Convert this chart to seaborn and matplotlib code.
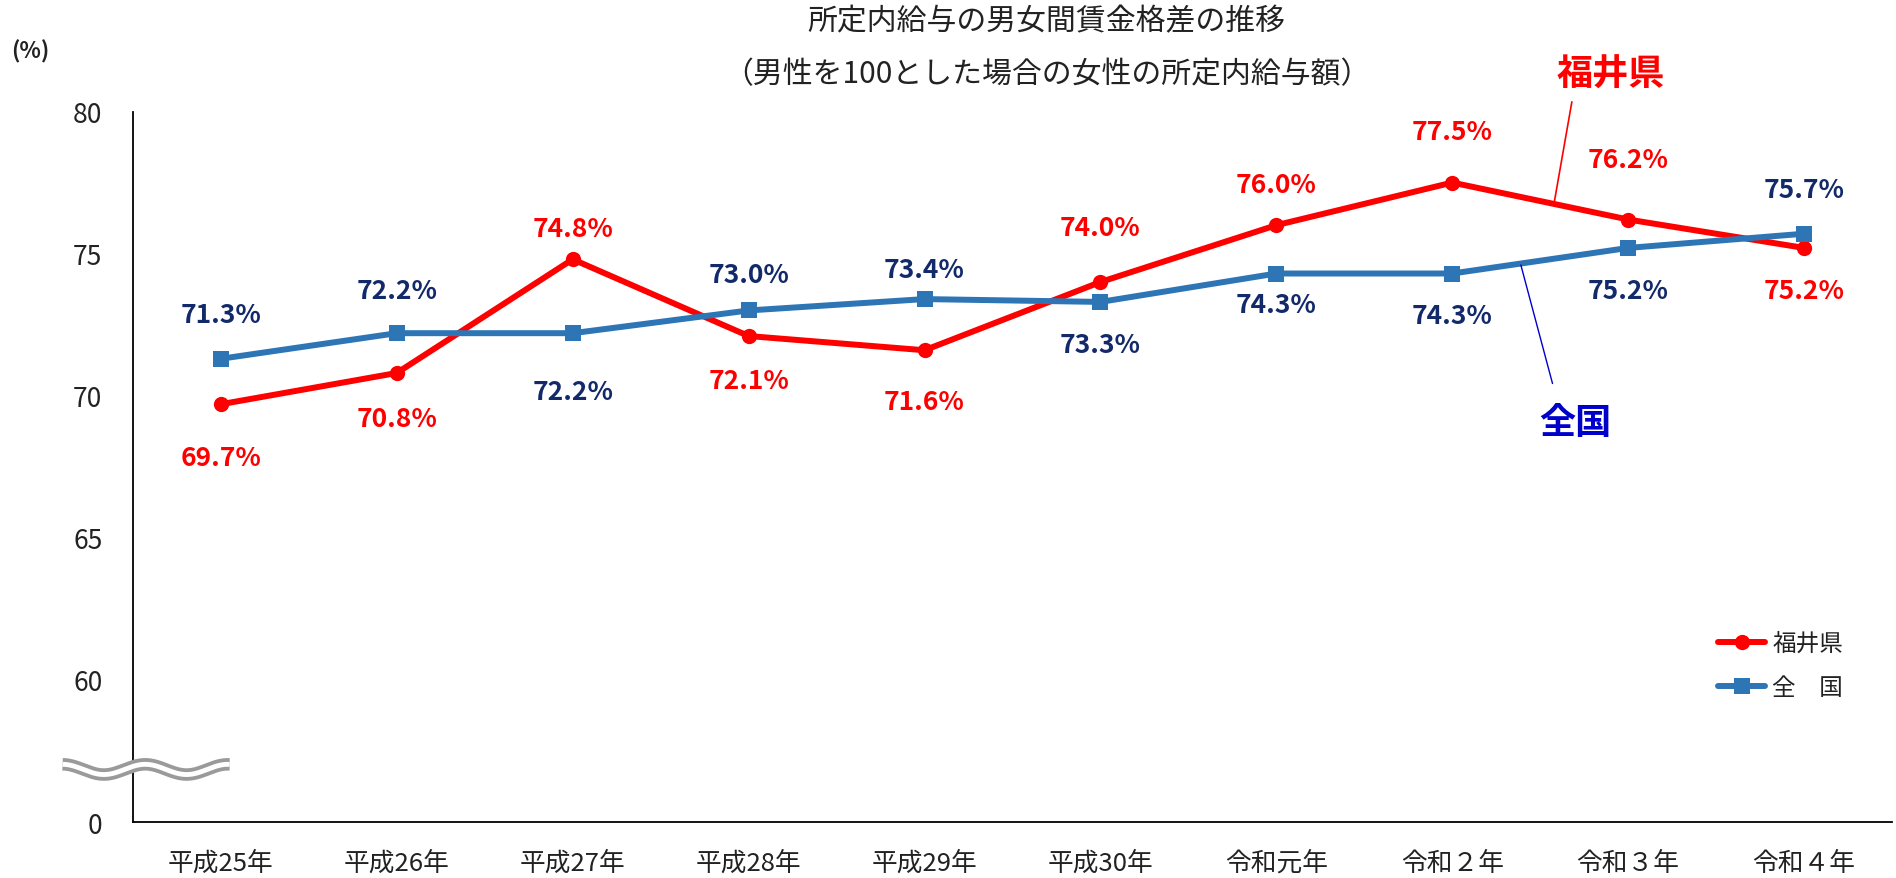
import numpy as np
import pandas as pd
import seaborn as sns
import matplotlib
matplotlib.use("Agg")
import matplotlib.pyplot as plt

# データ
years = ["平成25年", "平成26年", "平成27年", "平成28年", "平成29年",
         "平成30年", "令和元年", "令和２年", "令和３年", "令和４年"]
fukui = [69.7, 70.8, 74.8, 72.1, 71.6, 74.0, 76.0, 77.5, 76.2, 75.2]
zenkoku = [71.3, 72.2, 72.2, 73.0, 73.4, 73.3, 74.3, 74.3, 75.2, 75.7]
y_ticks = [55, 60, 65, 70, 75, 80]
y_tick_labels = ["0", "60", "65", "70", "75", "80"]

# ラベルの上下位置（ポイント）
fukui_off = [-38, -33, 22, -32, -37, 39, 29, 37, 43, -31]
zenkoku_off = [32, 31, -42, 26, 21, -31, -22, -30, -31, 32]

sns.set_theme(style="white")
plt.rcParams["font.family"] = ["Noto Sans CJK JP", "DejaVu Sans"]

RED = "#FF0000"
BLUE = "#2E75B6"
NAVY = "#12296A"

df = pd.DataFrame({"x": range(len(years)), "福井県": fukui, "全　国": zenkoku})

fig = plt.figure(figsize=(18.96, 8.79), dpi=100)
ax = fig.add_axes([0.0701, 0.0637, 0.9278, 0.8083])

sns.lineplot(data=df, x="x", y="福井県", ax=ax, color=RED, linewidth=4.3,
             marker="o", markersize=11, markeredgewidth=0, label="福井県")
sns.lineplot(data=df, x="x", y="全　国", ax=ax, color=BLUE, linewidth=4.3,
             marker="s", markersize=11, markeredgewidth=0, label="全　国")

# データラベル
for i, v in enumerate(fukui):
    ax.annotate(f"{v:.1f}%", (i, v), xytext=(0, fukui_off[i]),
                textcoords="offset points", ha="center", va="center",
                color=RED, fontsize=19, fontweight="bold")
for i, v in enumerate(zenkoku):
    ax.annotate(f"{v:.1f}%", (i, v), xytext=(0, zenkoku_off[i]),
                textcoords="offset points", ha="center", va="center",
                color=NAVY, fontsize=19, fontweight="bold")

# 軸
ax.set_xlim(-0.5, len(years) - 0.5)
ax.set_ylim(55, 80)
ax.set_yticks(y_ticks)
ax.set_yticklabels(y_tick_labels, fontsize=19, color="#222222")
ax.set_xticks(np.arange(-0.5, len(years), 1.0))
ax.set_xticklabels([])
ax.set_xticks(range(len(years)), minor=True)
ax.set_xticklabels(years, minor=True, fontsize=18.5, color="#222222")
ax.tick_params(axis="x", which="major", direction="in", length=8, width=1.2, color="black")
ax.tick_params(axis="x", which="minor", length=0, pad=20)
ax.tick_params(axis="y", direction="in", length=7, width=1.2, color="black", pad=22)
ax.set_xlabel("")
ax.set_ylabel("")
for s in ["top", "right"]:
    ax.spines[s].set_visible(False)
for s in ["left", "bottom"]:
    ax.spines[s].set_color("black")
    ax.spines[s].set_linewidth(1.3)

# 波線（省略記号）
wx = np.linspace(-0.9, 0.05, 200)
wy = 56.85 + 0.18 * np.sin((wx + 0.9) / 0.47 * 2 * np.pi + np.pi / 2)
ax.plot(wx, wy, color="#9A9A9A", linewidth=9, clip_on=False, solid_capstyle="butt", zorder=5)
ax.plot(wx, wy, color="white", linewidth=3.5, clip_on=False, solid_capstyle="butt", zorder=6)

# 系列名の注記
ax.plot([7.58, 7.68], [76.81, 80.34], color=RED, linewidth=1.2, clip_on=False)
ax.text(7.90, 81.3, "福井県", color=RED, fontsize=26, fontweight="bold",
        ha="center", va="center")
ax.plot([7.39, 7.57], [74.6, 70.43], color="#0000CC", linewidth=1.0)
ax.text(7.70, 69.05, "全国", color="#0000CC", fontsize=26, fontweight="bold",
        ha="center", va="center")

# 凡例
leg = ax.legend(loc="center left", bbox_to_anchor=(0.889, 0.22), frameon=False,
                fontsize=17, handlelength=2.0, handletextpad=0.3, labelspacing=0.9)
for t in leg.get_texts():
    t.set_color("#222222")

# タイトル
fig.text(0.552, 0.975, "所定内給与の男女間賃金格差の推移", ha="center", va="center",
         fontsize=21.5, color="#222222")
fig.text(0.552, 0.915, "（男性を100とした場合の女性の所定内給与額）", ha="center", va="center",
         fontsize=21.5, color="#222222")
fig.text(0.016, 0.941, "(%)", ha="center", va="center", fontsize=16,
         fontweight="bold", color="#222222")

fig.savefig("out.png", dpi=100)
